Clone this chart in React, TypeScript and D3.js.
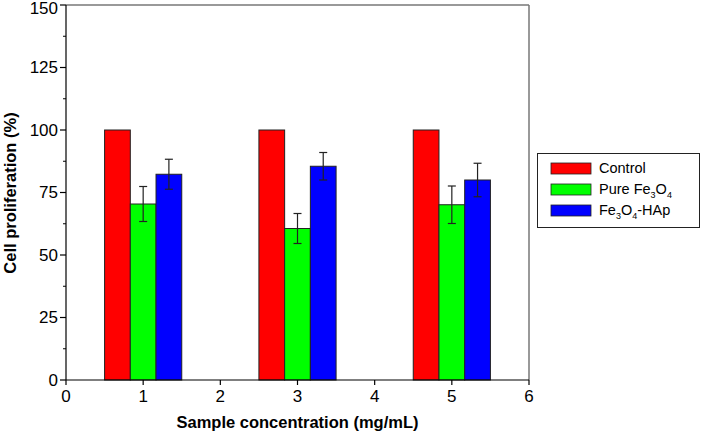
import React from "react";
import * as d3 from "d3";

const concentrations = [1, 3, 5];
const seriesNames = ["Control", "Pure Fe3O4", "Fe3O4-HAp"];
const seriesColors = ["#ff0000", "#00ff00", "#0000ff"];
const controlValues = [100, 100, 100];
const pureValues = [70.4, 60.6, 70.1];
const pureErrors = [7.0, 6.0, 7.5];
const hapValues = [82.3, 85.5, 80.0];
const hapErrors = [6.0, 5.5, 6.7];
const yTicks = [0, 25, 50, 75, 100, 125, 150];
const yMinor = [12.5, 37.5, 62.5, 87.5, 112.5, 137.5];
const xTicks = [0, 1, 2, 3, 4, 5, 6];

const series = [
  { values: controlValues, errors: null as number[] | null },
  { values: pureValues, errors: pureErrors },
  { values: hapValues, errors: hapErrors },
];

export default function App() {
  const W = 720, H = 435;
  const left = 66, right = 529, top = 5, bottom = 380;
  const x = d3.scaleLinear().domain([0, 6]).range([left, right]);
  const y = d3.scaleLinear().domain([0, 150]).range([bottom, top]);
  const bw = 1 / 3;
  const font = "Arial, 'Liberation Sans', sans-serif";

  const legendItems = [
    { color: seriesColors[0], label: <tspan>Control</tspan> },
    {
      color: seriesColors[1],
      label: (
        <>
          <tspan>Pure Fe</tspan>
          <tspan dy="4" fontSize="9">3</tspan>
          <tspan dy="-4">O</tspan>
          <tspan dy="4" fontSize="9">4</tspan>
        </>
      ),
    },
    {
      color: seriesColors[2],
      label: (
        <>
          <tspan>Fe</tspan>
          <tspan dy="4" fontSize="9">3</tspan>
          <tspan dy="-4">O</tspan>
          <tspan dy="4" fontSize="9">4</tspan>
          <tspan dy="-4">-HAp</tspan>
        </>
      ),
    },
  ];

  return (
    <svg width={W} height={H} style={{ position: "absolute", left: 0, top: 0 }} fontFamily={font}>
      <rect width={W} height={H} fill="#fff" />
      {/* frame top/right */}
      <line x1={left} x2={right} y1={top} y2={top} stroke="#777" strokeWidth={1.5} />
      <line x1={right} x2={right} y1={top} y2={bottom} stroke="#777" strokeWidth={1.5} />
      {/* bars */}
      {concentrations.map((c, i) =>
        series.map((s, j) => {
          const x0 = x(c - 0.5 + j * bw);
          const x1 = x(c - 0.5 + (j + 1) * bw);
          return (
            <rect
              key={`b${i}-${j}`}
              x={x0}
              y={y(s.values[i])}
              width={x1 - x0}
              height={y(0) - y(s.values[i])}
              fill={seriesColors[j]}
              stroke="#222"
              strokeWidth={1}
            />
          );
        })
      )}
      {/* error bars */}
      {concentrations.map((c, i) =>
        series.map((s, j) => {
          if (!s.errors) return null;
          const cx = x(c - 0.5 + (j + 0.5) * bw);
          const v = s.values[i], e = s.errors[i];
          return (
            <g key={`e${i}-${j}`} stroke="#222" strokeWidth={1.2}>
              <line x1={cx} x2={cx} y1={y(v + e)} y2={y(v - e)} />
              <line x1={cx - 4} x2={cx + 4} y1={y(v + e)} y2={y(v + e)} />
              <line x1={cx - 4} x2={cx + 4} y1={y(v - e)} y2={y(v - e)} />
            </g>
          );
        })
      )}
      {/* axes */}
      <line x1={left} x2={left} y1={top} y2={bottom} stroke="#000" strokeWidth={1.2} />
      <line x1={left} x2={right} y1={bottom} y2={bottom} stroke="#000" strokeWidth={1.2} />
      {yTicks.map((t) => (
        <g key={`yt${t}`}>
          <line x1={left - 6} x2={left} y1={y(t)} y2={y(t)} stroke="#000" strokeWidth={1.2} />
          <text x={left - 8} y={y(t) + (t === 150 ? 3 : 0)} dy="0.35em" textAnchor="end" fontSize={17}>
            {t}
          </text>
        </g>
      ))}
      {yMinor.map((t) => (
        <line key={`ym${t}`} x1={left - 3} x2={left} y1={y(t)} y2={y(t)} stroke="#000" strokeWidth={1} />
      ))}
      {xTicks.map((t) => (
        <g key={`xt${t}`}>
          <line x1={x(t)} x2={x(t)} y1={bottom} y2={bottom + 5} stroke="#000" strokeWidth={1.2} />
          <text x={x(t)} y={bottom + 22} textAnchor="middle" fontSize={17}>
            {t}
          </text>
        </g>
      ))}
      <text x={(left + right) / 2} y={428} textAnchor="middle" fontSize={16.5} fontWeight="bold">
        Sample concentration (mg/mL)
      </text>
      <text
        transform={`translate(10,193) rotate(-90)`}
        textAnchor="middle"
        dy="0.35em"
        fontSize={16.5}
        fontWeight="bold"
      >
        Cell proliferation (%)
      </text>
      {/* legend */}
      <rect x={537.5} y={153.5} width={162} height={74} fill="#fff" stroke="#222" strokeWidth={1} />
      {legendItems.map((it, k) => (
        <g key={`l${k}`}>
          <rect x={551} y={163 + k * 21} width={40} height={11} fill={it.color} stroke="#222" strokeWidth={0.8} />
          <text x={599} y={173 + k * 21} fontSize={14.5}>
            {it.label}
          </text>
        </g>
      ))}
    </svg>
  );
}
